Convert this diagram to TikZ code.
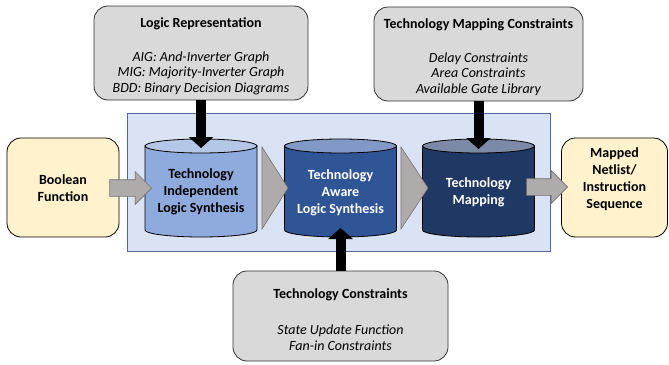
\documentclass[tikz,border=0pt]{standalone}
\usepackage{fontspec}
\setmainfont{Carlito}
\usetikzlibrary{arrows.meta,positioning,shapes.arrows}
\definecolor{boxgray}{HTML}{D9D9D9}
\definecolor{panelblue}{HTML}{DAE3F3}
\definecolor{paneledge}{HTML}{4F6A9A}
\definecolor{ioyellow}{HTML}{FFF2CC}
\definecolor{drumA}{HTML}{8FAADC}
\definecolor{drumAtop}{HTML}{B4C7E7}
\definecolor{drumB}{HTML}{2F5597}
\definecolor{drumBtop}{HTML}{8299C8}
\definecolor{drumC}{HTML}{203864}
\definecolor{drumCtop}{HTML}{7C8AA8}
\definecolor{arrowgray}{HTML}{AFABAB}
\definecolor{arrowedge}{HTML}{767171}

\begin{document}
\begin{tikzpicture}[x=1pt,y=-1pt,
infobox/.style={draw=black!80,fill=boxgray,rounded corners=14pt,line width=0.8pt,
align=center,font=\fontsize{14}{15.5}\selectfont},
iobox/.style={draw=black,fill=ioyellow,rounded corners=14pt,line width=0.8pt,
minimum height=99pt},
iotext/.style={align=center,font=\fontsize{14}{17}\selectfont\bfseries},
panel/.style={draw=paneledge,fill=panelblue,line width=0.8pt,
minimum width=423pt,minimum height=138pt},
drum/.style={draw=black,line width=0.8pt},
drumtext/.style={align=center,font=\fontsize{14}{17}\selectfont\bfseries},
feed/.style={line width=10pt,-{Triangle[length=11pt,width=24pt]}},
garrow/.style={single arrow,draw=arrowedge,fill=arrowgray,line width=0.6pt,
inner xsep=0pt,inner ysep=8pt,single arrow head extend=8pt,
single arrow tip angle=90,minimum height=42pt},
gtri/.style={draw=arrowedge,fill=arrowgray,line width=0.6pt}
]
\useasboundingbox (0,0) rectangle (669,364);

% panel behind the three synthesis steps
\node[panel] (panel) at (338.5,182) {};

% input and output
\node[iobox,minimum width=112pt] (bool) at (63,187.5) {};
\node[iotext] (booltxt) at (63,188.5) {Boolean\\Function};
\node[iobox,minimum width=106pt] (mapped) at (614.5,187.5) {};
\node[iotext] (mappedtxt) at (614.5,179.5) {Mapped\\Netlist/\\Instruction\\Sequence};

% constraint boxes
\node[infobox,minimum width=214pt,minimum height=94pt] (logic) at (201,53)
{\rule{0pt}{16pt}\textbf{Logic Representation}\\[18.5pt]
\itshape AIG: And-Inverter Graph\\
\itshape MIG: Majority-Inverter Graph\\
\itshape BDD: Binary Decision Diagrams};
\node[infobox,minimum width=209pt,minimum height=94pt] (tmc) at (478.5,54)
{\rule{0pt}{16pt}\textbf{Technology Mapping Constraints}\\[18.5pt]
\itshape Delay Constraints\\
\itshape Area Constraints\\
\itshape Available Gate Library};
\node[infobox,minimum width=215pt,minimum height=90pt] (tc) at (340.5,316)
{\rule{0pt}{17pt}\textbf{Technology Constraints}\\[20.5pt]
\itshape State Update Function\\
\itshape Fan-in Constraints};

% cylinders
\draw[drum,fill=drumA] (145,146) -- (145,230)
  arc[start angle=180,end angle=0,x radius=56,y radius=7] -- (257,146) -- cycle;
\draw[drum,fill=drumAtop] (201,146) ellipse[x radius=56,y radius=7];
\draw[drum,fill=drumB] (284.5,146) -- (284.5,230)
  arc[start angle=180,end angle=0,x radius=56,y radius=7] -- (396.5,146) -- cycle;
\draw[drum,fill=drumBtop] (340.5,146) ellipse[x radius=56,y radius=7];
\draw[drum,fill=drumC] (422.5,146) -- (422.5,230)
  arc[start angle=180,end angle=0,x radius=56,y radius=7] -- (534.5,146) -- cycle;
\draw[drum,fill=drumCtop] (478.5,146) ellipse[x radius=56,y radius=7];

\node[drumtext] (indep) at (201,192) {Technology\\Independent\\Logic Synthesis};
\node[drumtext,text=white] (aware) at (340.5,193) {Technology\\Aware\\Logic Synthesis};
\node[drumtext,text=white] (techmap) at (478.5,192) {Technology\\Mapping};

% gray flow arrows
\node[garrow,anchor=tip] (inarrow) at (152,188) {};
\node[garrow,anchor=tip,minimum height=41pt] (outarrow) at (568,187) {};
\draw[gtri] (262,147) -- (288,188) -- (262,229) -- cycle;
\draw[gtri] (401,147) -- (428,188) -- (401,229) -- cycle;

% black constraint arrows
\coordinate (indeptop) at (201,148);
\coordinate (techmaptop) at (478.5,149);
\coordinate (awarebot) at (340.5,228);
\draw[feed] (logic.south) -- (indeptop);
\draw[feed] (tmc.south) -- (techmaptop);
\draw[feed] (tc.north) -- (awarebot);
\end{tikzpicture}
\end{document}
